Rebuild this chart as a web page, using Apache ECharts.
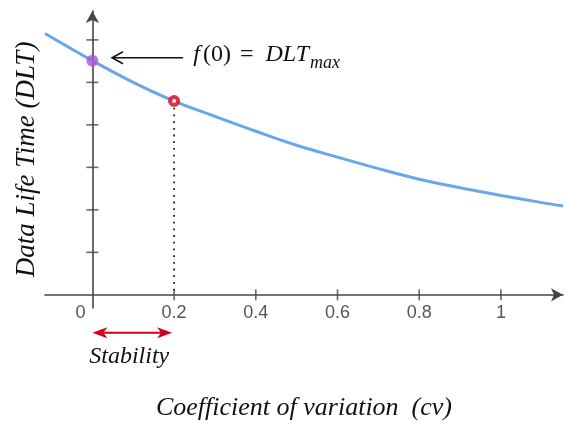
<!DOCTYPE html>
<html><head><meta charset="utf-8">
<script src="https://cdn.jsdelivr.net/npm/echarts@6/dist/echarts.min.js"></script>
<style>html,body{margin:0;padding:0;background:#fff}#c{width:565px;height:424px}</style>
</head><body><div id="c"></div>
<script>
// ---- data ----
const cvValues   = [-0.116, 0, 0.1, 0.2, 0.3, 0.4, 0.5, 0.6, 0.7, 0.8, 0.9, 1.0, 1.1, 1.152];
const dltValues  = [6.15, 5.51, 5.0, 4.56, 4.2, 3.85, 3.52, 3.24, 2.97, 2.72, 2.52, 2.34, 2.17, 2.09];
const xTickValues  = [0.2, 0.4, 0.6, 0.8, 1];
const xLabelValues = [0, 0.2, 0.4, 0.6, 0.8, 1];
const yTickValues  = [1, 2, 3, 4, 5, 6];
const maxPoint       = [0, 5.51];
const stabilityPoint = [0.2, 4.56];
const stabilityRange = [0, 0.2];

const serif = '"Liberation Serif", "Times New Roman", serif';
const sans = '"Liberation Sans", Arial, sans-serif';
const axisColor = '#454545';

const chart = echarts.init(document.getElementById('c'), null, {renderer: 'canvas'});
const curve = cvValues.map((x, i) => [x, dltValues[i]]);

chart.setOption({
  animation: false,
  grid: {left: 45, right: 2, top: 11, bottom: 116, outerBoundsMode: 'none', containLabel: false},
  xAxis: {
    type: 'value', min: -0.116, max: 1.152,
    axisLine: {onZero: true, lineStyle: {color: axisColor, width: 1.6}, symbol: ['none', 'arrow'], symbolSize: [10, 12]},
    axisTick: {show: false}, splitLine: {show: false},
    axisLabel: {
      customValues: xLabelValues, color: '#555', fontSize: 18, fontFamily: sans, margin: -4,
      formatter: v => v === 0 ? '{z|0}' : String(v),
      rich: {z: {padding: [0, 24, 0, 0], fontSize: 18, color: '#555', fontFamily: sans}}
    },
    name: 'Coefficient of variation  (cv)', nameLocation: 'middle', nameGap: 87,
    nameTextStyle: {fontFamily: serif, fontStyle: 'italic', fontSize: 26, color: '#111'}
  },
  yAxis: {
    type: 'value', min: -0.31, max: 6.68,
    axisLine: {onZero: true, lineStyle: {color: axisColor, width: 1.6}, symbol: ['none', 'arrow'], symbolSize: [10, 12]},
    axisTick: {show: false}, axisLabel: {show: false}, splitLine: {show: false},
    name: 'Data Life Time (DLT)', nameLocation: 'middle', nameGap: 5, nameRotate: 90,
    nameTextStyle: {fontFamily: serif, fontStyle: 'italic', fontSize: 27, color: '#111'}
  },
  series: [
    {type: 'scatter', data: yTickValues.map(v => [0, v]), symbol: 'rect', symbolSize: [12, 1.6],
     itemStyle: {color: axisColor}, silent: true, z: 1},
    {type: 'scatter', data: xTickValues.map(v => [v, 0]), symbol: 'rect', symbolSize: [1.6, 11],
     itemStyle: {color: axisColor}, silent: true, z: 1},
    {type: 'line', data: [stabilityPoint, [stabilityPoint[0], 0]], symbol: 'none',
     lineStyle: {color: '#222', width: 1.8, type: [1.8, 4.9]}, z: 2, silent: true},
    {type: 'line', data: curve, smooth: 0.4, symbol: 'none',
     lineStyle: {color: '#6aa6e8', width: 3}, z: 3, silent: true},
    {type: 'scatter', data: [maxPoint], symbolSize: 12, itemStyle: {color: '#a955dc'}, z: 4},
    {type: 'scatter', data: [stabilityPoint], symbolSize: 8,
     itemStyle: {color: '#ffffff', borderColor: '#d4001e', borderWidth: 4}, z: 5}
  ]
});

// ---- annotations placed relative to the axes ----
const P = (x, y) => chart.convertToPixel({gridIndex: 0}, [x, y]);
const ctx = document.createElement('canvas').getContext('2d');
function tw(font, s) { ctx.font = font; return ctx.measureText(s).width; }

const tip = P(0.048, 5.58), tail = P(0.222, 5.58);
const ay = tip[1];
const txX = P(0.247, 0)[0];
const fI = 'italic 24px ' + serif, fR = '24px ' + serif;
const mainW = tw(fI, 'f') + 3 + tw(fR, '(0)') + 9 + tw(fR, '=') + 12 + tw(fI, 'DLT');
const sA = P(stabilityRange[0], -0.89), sB = P(stabilityRange[1], -0.89);
const sy = sA[1];
const red = '#d0021b';

chart.setOption({
  graphic: [
    {type: 'line', shape: {x1: tail[0], y1: ay, x2: tip[0] + 1, y2: ay}, style: {stroke: '#111', lineWidth: 1.5}},
    {type: 'polyline', shape: {points: [[tip[0] + 11, ay - 6], [tip[0], ay], [tip[0] + 11, ay + 6]]},
     style: {stroke: '#111', lineWidth: 1.5, fill: null}},
    {type: 'text', x: txX, y: ay - 3, style: {
      text: '{i|f}{r|(0)}{e|=}{d|DLT}', verticalAlign: 'middle', fill: '#111',
      rich: {i: {font: fI, fill: '#111'},
             r: {font: fR, fill: '#111', padding: [0, 0, 0, 3]},
             e: {font: fR, fill: '#111', padding: [0, 12, 0, 9]},
             d: {font: fI, fill: '#111'}}}},
    {type: 'text', x: txX + mainW + 1, y: ay + 6, style: {
      text: 'max', font: 'italic 18px ' + serif, fill: '#111', verticalAlign: 'middle'}},
    {type: 'line', shape: {x1: sA[0] + 6, y1: sy, x2: sB[0] - 8, y2: sy}, style: {stroke: red, lineWidth: 2}},
    {type: 'polygon', shape: {points: [[sA[0], sy], [sA[0] + 15, sy - 5.5], [sA[0] + 11, sy], [sA[0] + 15, sy + 5.5]]}, style: {fill: red}},
    {type: 'polygon', shape: {points: [[sB[0] - 2, sy], [sB[0] - 17, sy - 5.5], [sB[0] - 13, sy], [sB[0] - 17, sy + 5.5]]}, style: {fill: red}},
    {type: 'text', x: (sA[0] + sB[0]) / 2 - 4, y: sy + 24, style: {
      text: 'Stability', font: 'italic 24px ' + serif, fill: '#111', align: 'center', verticalAlign: 'middle'}}
  ]
});
</script>
</body></html>
